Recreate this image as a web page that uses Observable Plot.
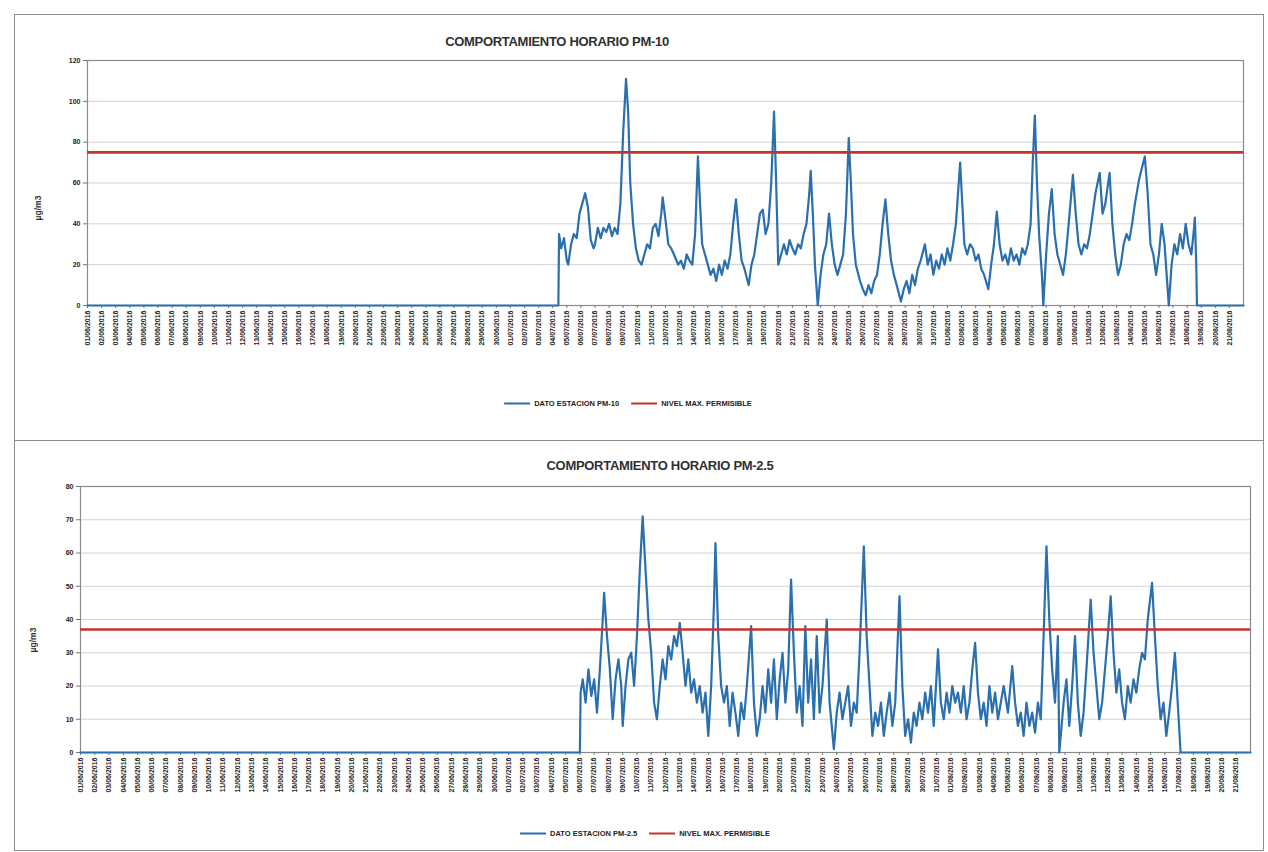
<!DOCTYPE html>
<html><head><meta charset="utf-8">
<script src="https://cdn.jsdelivr.net/npm/d3@7"></script>
<script src="https://cdn.jsdelivr.net/npm/@observablehq/plot@0.6"></script>
<style>
body{margin:0;background:#fff;font-family:"Liberation Sans",Arial,sans-serif;}
#page{position:relative;width:1268px;height:852px;overflow:hidden;background:#fff;}
.panel{position:absolute;border:1.5px solid #8c8c8c;box-sizing:border-box;}
.title{position:absolute;transform:translate(-50%,-50%);font-weight:bold;font-size:13px;color:#303030;white-space:nowrap;letter-spacing:-0.3px;}
.legend{position:absolute;transform:translate(-50%,-50%);font-size:7.5px;color:#222;white-space:nowrap;display:flex;align-items:center;font-weight:bold;}
.sw{display:inline-block;width:26px;height:0;border-top:2px solid;margin:0 4px 0 12px;}
.ylab{position:absolute;transform:translate(-50%,-50%) rotate(-90deg);font-weight:bold;font-size:8.5px;color:#333;white-space:nowrap;}
.chart{position:absolute;}
.chart svg{background:transparent !important;}
</style></head><body><div id="page">
<div class="panel" style="left:14px;top:14px;width:1250px;height:427px;"></div>
<div class="panel" style="left:14px;top:440px;width:1250px;height:411px;"></div>
<div class="title" id="t1" style="left:557px;top:41px;"></div>
<div class="title" id="t2" style="left:660px;top:465px;"></div>
<div class="ylab" style="left:38px;top:208px;">µg/m3</div>
<div class="ylab" style="left:33px;top:640px;">µg/m3</div>
<div class="chart" id="c1" style="left:14px;top:50px;"></div>
<div class="chart" id="c2" style="left:14px;top:476px;"></div>
<div class="legend" id="l1" style="left:628px;top:403px;"></div>
<div class="legend" id="l2" style="left:645px;top:833px;"></div>
</div>
<script>
const titles = ["COMPORTAMIENTO HORARIO PM-10", "COMPORTAMIENTO HORARIO PM-2.5"];
const seriesNames = ["DATO ESTACION PM-10", "DATO ESTACION PM-2.5"];
const limitName = "NIVEL MAX. PERMISIBLE";
const limitPM10 = 75;
const limitPM25 = 37;
const ticksPM10 = [0, 20, 40, 60, 80, 100, 120];
const ticksPM25 = [0, 10, 20, 30, 40, 50, 60, 70, 80];
const dayLabels = [
"01/06/2016","02/06/2016","03/06/2016","04/06/2016","05/06/2016","06/06/2016","07/06/2016","08/06/2016","09/06/2016","10/06/2016",
"11/06/2016","12/06/2016","13/06/2016","14/06/2016","15/06/2016","16/06/2016","17/06/2016","18/06/2016","19/06/2016","20/06/2016",
"21/06/2016","22/06/2016","23/06/2016","24/06/2016","25/06/2016","26/06/2016","27/06/2016","28/06/2016","29/06/2016","30/06/2016",
"01/07/2016","02/07/2016","03/07/2016","04/07/2016","05/07/2016","06/07/2016","07/07/2016","08/07/2016","09/07/2016","10/07/2016",
"11/07/2016","12/07/2016","13/07/2016","14/07/2016","15/07/2016","16/07/2016","17/07/2016","18/07/2016","19/07/2016","20/07/2016",
"21/07/2016","22/07/2016","23/07/2016","24/07/2016","25/07/2016","26/07/2016","27/07/2016","28/07/2016","29/07/2016","30/07/2016",
"31/07/2016","01/08/2016","02/08/2016","03/08/2016","04/08/2016","05/08/2016","06/08/2016","07/08/2016","08/08/2016","09/08/2016",
"10/08/2016","11/08/2016","12/08/2016","13/08/2016","14/08/2016","15/08/2016","16/08/2016","17/08/2016","18/08/2016","19/08/2016",
"20/08/2016","21/08/2016"];
// [day position, µg/m3]
const pm10 = [[0,0],[33.4,0],[33.45,35],[33.6,28],[33.8,33],[34.0,22],[34.1,20],[34.3,30],[34.5,35],[34.7,33],[34.9,45],[35.1,50],[35.3,55],[35.5,48],[35.7,32],[35.9,28],[36.0,30],[36.2,38],[36.4,33],[36.6,38],[36.8,36],[37.0,40],[37.2,34],[37.4,38],[37.6,35],[37.8,50],[38.0,85],[38.2,111],[38.35,95],[38.5,60],[38.7,40],[38.9,28],[39.1,22],[39.3,20],[39.5,25],[39.7,30],[39.9,28],[40.1,38],[40.3,40],[40.5,34],[40.7,45],[40.8,53],[41.0,42],[41.2,30],[41.4,28],[41.6,25],[41.9,20],[42.1,22],[42.3,18],[42.5,25],[42.7,22],[42.9,20],[43.1,35],[43.3,73],[43.45,50],[43.6,30],[43.8,25],[44.0,20],[44.2,15],[44.4,18],[44.6,12],[44.8,20],[45.0,15],[45.2,22],[45.4,18],[45.6,25],[45.8,40],[46.0,52],[46.2,35],[46.4,22],[46.6,18],[46.9,10],[47.1,20],[47.3,25],[47.5,35],[47.7,45],[47.9,47],[48.1,35],[48.3,40],[48.5,60],[48.7,95],[48.85,60],[49.0,20],[49.2,25],[49.4,30],[49.6,25],[49.8,32],[50.0,28],[50.2,25],[50.4,30],[50.6,28],[50.8,35],[51.0,40],[51.2,55],[51.3,66],[51.45,45],[51.6,20],[51.8,0],[52.0,15],[52.2,25],[52.4,30],[52.6,45],[52.8,30],[53.0,20],[53.2,15],[53.4,20],[53.6,25],[53.8,45],[54.0,82],[54.15,60],[54.3,35],[54.5,20],[54.8,12],[55.0,8],[55.2,5],[55.4,10],[55.6,6],[55.8,12],[56.0,15],[56.2,25],[56.4,40],[56.6,52],[56.8,35],[57.0,22],[57.2,15],[57.4,10],[57.7,2],[57.9,8],[58.1,12],[58.3,6],[58.5,15],[58.7,10],[58.9,18],[59.1,22],[59.4,30],[59.6,20],[59.8,25],[60.0,15],[60.2,22],[60.4,18],[60.6,25],[60.8,20],[61.0,28],[61.2,22],[61.4,30],[61.6,40],[61.9,70],[62.05,50],[62.2,30],[62.4,25],[62.6,30],[62.8,28],[63.0,22],[63.2,25],[63.4,18],[63.6,15],[63.9,8],[64.1,20],[64.3,30],[64.5,46],[64.7,30],[64.9,22],[65.1,25],[65.3,20],[65.5,28],[65.7,22],[65.9,25],[66.1,20],[66.3,28],[66.5,25],[66.7,30],[66.9,40],[67.05,70],[67.2,93],[67.35,60],[67.5,35],[67.7,15],[67.8,0],[68.0,25],[68.2,45],[68.4,57],[68.6,35],[68.8,25],[69.0,20],[69.2,15],[69.4,25],[69.6,40],[69.9,64],[70.1,45],[70.3,30],[70.5,25],[70.7,30],[70.9,28],[71.1,35],[71.3,45],[71.5,55],[71.8,65],[72.0,45],[72.2,50],[72.5,65],[72.7,40],[72.9,25],[73.1,15],[73.3,20],[73.5,30],[73.7,35],[73.9,32],[74.1,40],[74.3,50],[74.6,62],[75.0,73],[75.2,55],[75.4,30],[75.6,25],[75.8,15],[76.0,25],[76.2,40],[76.4,30],[76.6,10],[76.7,0],[76.9,20],[77.1,30],[77.3,25],[77.5,35],[77.7,28],[77.9,40],[78.1,30],[78.3,25],[78.45,35],[78.55,43],[78.65,20],[78.7,0],[82,0]];
const pm25 = [[0,0],[35.0,0],[35.05,18],[35.2,22],[35.4,15],[35.6,25],[35.8,17],[36.0,22],[36.2,12],[36.4,25],[36.6,40],[36.7,48],[36.9,35],[37.1,25],[37.3,10],[37.5,22],[37.7,28],[37.9,20],[38.0,8],[38.2,20],[38.4,28],[38.6,30],[38.8,20],[39.0,35],[39.2,55],[39.4,71],[39.6,55],[39.8,40],[40.0,30],[40.2,15],[40.4,10],[40.6,20],[40.8,28],[41.0,22],[41.2,32],[41.4,28],[41.6,35],[41.8,32],[42.0,39],[42.2,30],[42.4,20],[42.6,28],[42.8,18],[43.0,22],[43.2,15],[43.4,20],[43.6,12],[43.8,18],[44.0,5],[44.2,20],[44.4,45],[44.5,63],[44.7,35],[44.9,20],[45.1,15],[45.3,20],[45.5,8],[45.7,18],[45.9,12],[46.1,5],[46.3,15],[46.5,10],[46.7,20],[47.0,38],[47.2,15],[47.4,5],[47.6,10],[47.8,20],[48.0,12],[48.2,25],[48.4,15],[48.6,28],[48.8,10],[49.0,22],[49.2,30],[49.4,15],[49.6,25],[49.8,52],[50.0,30],[50.2,12],[50.4,20],[50.6,8],[50.8,38],[51.0,15],[51.2,28],[51.4,10],[51.6,35],[51.8,12],[52.0,20],[52.3,40],[52.5,15],[52.8,1],[53.0,12],[53.2,18],[53.4,10],[53.6,15],[53.8,20],[54.0,8],[54.2,15],[54.4,12],[54.6,30],[54.9,62],[55.1,35],[55.3,20],[55.5,5],[55.7,12],[55.9,8],[56.1,15],[56.3,5],[56.5,12],[56.7,18],[56.9,8],[57.1,15],[57.4,47],[57.6,20],[57.8,5],[58.0,10],[58.2,3],[58.4,12],[58.6,8],[58.8,15],[59.0,10],[59.2,18],[59.4,12],[59.6,20],[59.8,8],[60.1,31],[60.3,15],[60.5,10],[60.7,18],[60.9,12],[61.1,20],[61.3,15],[61.5,18],[61.7,12],[61.9,20],[62.1,10],[62.3,15],[62.5,25],[62.7,33],[62.9,18],[63.1,10],[63.3,15],[63.5,8],[63.7,20],[63.9,12],[64.1,18],[64.3,10],[64.5,15],[64.7,20],[65.0,12],[65.3,26],[65.5,15],[65.7,8],[65.9,12],[66.1,5],[66.3,15],[66.5,8],[66.7,12],[66.9,6],[67.1,15],[67.3,10],[67.5,35],[67.7,62],[67.9,40],[68.1,25],[68.3,15],[68.5,35],[68.6,0],[68.9,15],[69.1,22],[69.3,8],[69.5,20],[69.7,35],[69.9,15],[70.1,5],[70.3,12],[70.5,25],[70.8,46],[71.0,30],[71.2,20],[71.4,10],[71.6,15],[71.8,25],[72.0,35],[72.2,47],[72.4,30],[72.6,18],[72.8,25],[73.0,15],[73.2,10],[73.4,20],[73.6,15],[73.8,22],[74.0,18],[74.2,25],[74.4,30],[74.6,28],[74.8,40],[75.1,51],[75.3,35],[75.5,20],[75.7,10],[75.9,15],[76.1,5],[76.3,12],[76.5,20],[76.7,30],[76.9,15],[77.1,0],[82,0]];

const BLUE = "#2a6fae", RED = "#c8322c";
function chart(data, limit, yTicks, opts) {
  return Plot.plot({
    width: opts.width, height: opts.height,
    marginLeft: opts.ml, marginRight: opts.mr, marginTop: opts.mt, marginBottom: opts.mb,
    style: {fontFamily: "'Liberation Sans', Arial, sans-serif", color: "#222", background: "transparent"},
    x: {domain: [0, 82], axis: null},
    y: {domain: [yTicks[0], yTicks[yTicks.length - 1]], axis: null},
    marks: [
      Plot.gridY(yTicks, {stroke: "#d2d2d2", strokeOpacity: 1}),
      Plot.frame({stroke: "#8a8a8a", strokeWidth: 1.2}),
      Plot.axisY(yTicks, {fontSize: 7, fontWeight: "bold", tickSize: 4, tickPadding: 3, stroke: "#777", label: null}),
      Plot.axisX(d3.range(dayLabels.length), {tickFormat: i => dayLabels[i], tickRotate: -90, fontSize: 7, fontWeight: "bold", fill: "#222", tickSize: 3, tickPadding: 2, stroke: "#777", label: null}),
      Plot.line(data, {x: d => d[0], y: d => d[1], stroke: BLUE, strokeWidth: 2.2, strokeLinejoin: "round"}),
      Plot.ruleY([limit], {stroke: RED, strokeWidth: 2.6})
    ]
  });
}
document.getElementById("c1").append(chart(pm10, limitPM10, ticksPM10, {width: 1245, height: 315, ml: 73, mr: 16, mt: 10, mb: 60}));
document.getElementById("c2").append(chart(pm25, limitPM25, ticksPM25, {width: 1245, height: 336, ml: 66, mr: 9, mt: 10, mb: 60}));
document.getElementById("t1").textContent = titles[0];
document.getElementById("t2").textContent = titles[1];
function legend(el, name) {
  el.innerHTML = `<span class="sw" style="border-color:${BLUE};margin-left:0"></span><span>${name}</span><span class="sw" style="border-color:${RED}"></span><span>${limitName}</span>`;
}
legend(document.getElementById("l1"), seriesNames[0]);
legend(document.getElementById("l2"), seriesNames[1]);
</script>
</body></html>
